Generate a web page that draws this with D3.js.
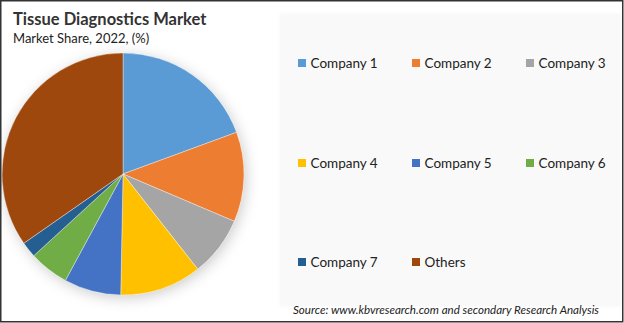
<!DOCTYPE html>
<html><head><meta charset="utf-8">
<script src="https://cdn.jsdelivr.net/npm/d3@7"></script>
<style>body{margin:0;background:#fff}svg{display:block}</style>
</head><body>
<svg id="c" width="624" height="323"></svg>
<script>
const categories = ["Company 1","Company 2","Company 3","Company 4","Company 5","Company 6","Company 7","Others"];
const shares = [19.4, 12.0, 8.0, 10.9, 7.6, 5.3, 2.1, 34.7];
const colors = ["#5B9BD5","#ED7D31","#A5A5A5","#FFC000","#4472C4","#70AD47","#255E91","#9E480E"];
const titleText = "Tissue Diagnostics Market";
const subtitleText = "Market Share, 2022, (%)";
const sourceText = "Source: www.kbvresearch.com and secondary Research Analysis";

const svg = d3.select("#c");
const font = "Lato, 'Open Sans', sans-serif";
const defs = svg.append("defs");
const f = defs.append("filter").attr("id","sh").attr("x","-20%").attr("y","-20%").attr("width","140%").attr("height","140%");
f.append("feDropShadow").attr("dx",2).attr("dy",3).attr("stdDeviation",7).attr("flood-color","#000").attr("flood-opacity",0.2);
const f2 = defs.append("filter").attr("id","sh2").attr("x","-10%").attr("y","-10%").attr("width","120%").attr("height","120%");
f2.append("feDropShadow").attr("dx",0).attr("dy",0).attr("stdDeviation",2).attr("flood-color","#000").attr("flood-opacity",0.03);

// legend panel
svg.append("rect").attr("x",280).attr("y",14).attr("width",340).attr("height",292).attr("fill","#f9f9f9").attr("filter","url(#sh2)");

// pie
const cx = 123, cy = 174, r = 121;
const color = d3.scaleOrdinal().domain(categories).range(colors);
const pie = d3.pie().sort(null).value(d => d.v);
const arc = d3.arc().innerRadius(0).outerRadius(r);
const data = categories.map((c,i)=>({c, v: shares[i]}));
const g = svg.append("g").attr("transform",`translate(${cx},${cy})`);
g.append("circle").attr("r",r).attr("fill","#fff").attr("filter","url(#sh)");
g.selectAll("path").data(pie(data)).join("path")
  .attr("d",arc).attr("fill",d=>color(d.data.c))
  .attr("stroke","#fff").attr("stroke-width",0.6).attr("stroke-opacity",0.6);

// title
svg.append("text").attr("x",13).attr("y",25).attr("font-family",font).attr("font-weight","bold")
  .attr("font-size",16.5).attr("fill","#333").text(titleText);
svg.append("text").attr("x",13).attr("y",43).attr("font-family",font)
  .attr("font-size",13).attr("fill","#222").text(subtitleText);

// legend
const colX = [298, 412, 526];
const rowY = [63, 163, 262];
const lg = svg.append("g");
categories.forEach((c,i)=>{
  const x = colX[i%3], y = rowY[Math.floor(i/3)];
  lg.append("rect").attr("x",x).attr("y",y-4).attr("width",8).attr("height",8).attr("fill",color(c));
  lg.append("text").attr("x",x+12.5).attr("y",y+4.5).attr("font-family",font)
    .attr("font-size",13.5).attr("fill","#222").text(c);
});

// source
svg.append("text").attr("x",293).attr("y",314).attr("font-family",font).attr("font-style","italic")
  .attr("font-size",11).attr("fill","#222").attr("textLength",306).attr("lengthAdjust","spacingAndGlyphs").text(sourceText);

// border
svg.append("rect").attr("x",0.75).attr("y",0.75).attr("width",622).attr("height",321)
  .attr("fill","none").attr("stroke","#333").attr("stroke-width",1.5);
</script>
</body></html>
